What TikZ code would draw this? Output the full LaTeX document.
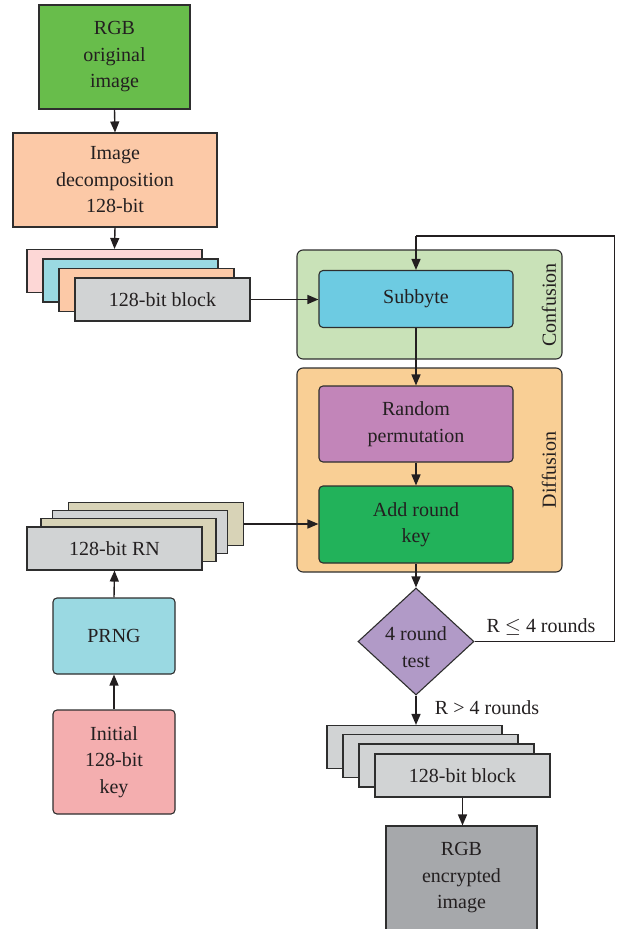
\documentclass[tikz,border=0pt]{standalone}
\usepackage{fontspec}
\setmainfont{Liberation Serif}
\usetikzlibrary{arrows.meta,shapes.geometric}
\definecolor{txt}{HTML}{231F20}
\definecolor{edge}{HTML}{2E2E2E}
\definecolor{cOrig}{HTML}{68BD4B}
\definecolor{cDecomp}{HTML}{FCC9A7}
\definecolor{cPink}{HTML}{FDD7D6}
\definecolor{cCyan}{HTML}{9AD9E2}
\definecolor{cGray}{HTML}{D1D3D4}
\definecolor{cKhaki}{HTML}{D8D3B7}
\definecolor{cConf}{HTML}{C9E2B8}
\definecolor{cSub}{HTML}{6DCBE2}
\definecolor{cDiff}{HTML}{F9CF95}
\definecolor{cPerm}{HTML}{C285B9}
\definecolor{cKey}{HTML}{22B25A}
\definecolor{cTest}{HTML}{B19AC7}
\definecolor{cInit}{HTML}{F4AEAF}
\definecolor{cEnc}{HTML}{A6A8AB}
\begin{document}
\begin{tikzpicture}[x=1pt,y=-1pt,
  font=\fontsize{20}{26.5}\selectfont, text=txt,
  box/.style={draw=edge, line width=1.1pt, inner sep=0pt, align=center},
  rbox/.style={box, rounded corners=4pt},
  group/.style={draw=edge, line width=1.1pt, rounded corners=6pt, inner sep=0pt},
  sheet/.style={box, minimum width=175pt, minimum height=43pt},
  flow/.style={draw=txt, line width=1.4pt, -{Triangle[length=11pt,width=9pt]}},
  plain/.style={draw=txt, line width=1.4pt},
  side/.style={rotate=90}]
\useasboundingbox (0,0) rectangle (616,929);

% source image and decomposition
\node[box, fill=cOrig, minimum width=151pt, minimum height=104pt] (orig) at (114.5,57) {RGB\\original\\image};
\node[box, fill=cDecomp, minimum width=204pt, minimum height=94pt] (decomp) at (115,180) {Image\\decomposition\\128-bit};

% stack of plain blocks
\node[sheet, fill=cPink] (b1) at (114.5,271) {};
\node[sheet, fill=cCyan] (b2) at (130.5,280.5) {};
\node[sheet, fill=cDecomp] (b3) at (146.5,290) {};
\node[sheet, fill=cGray] (b4) at (162.5,299.5) {128-bit block};

% confusion stage
\node[group, fill=cConf, minimum width=265pt, minimum height=109pt] (conf) at (429.5,304.5) {};
\node[rbox, fill=cSub, minimum width=194pt, minimum height=57pt] (sub) at (416,299) {Subbyte};
\node[side] (conflbl) at (549,305) {Confusion};

% diffusion stage
\node[group, fill=cDiff, minimum width=265pt, minimum height=204pt] (diff) at (429.5,470) {};
\node[rbox, fill=cPerm, minimum width=194pt, minimum height=76pt] (perm) at (416,424) {Random\\permutation};
\node[rbox, fill=cKey, minimum width=194pt, minimum height=77pt] (key) at (416,524.5) {Add round\\key};
\node[side] (difflbl) at (549,470) {Diffusion};

% round test
\node[draw=edge, line width=1.1pt, fill=cTest, diamond, inner sep=0pt,
      minimum width=116pt, minimum height=107pt] (test) at (416,641.5) {};
\node[align=center] (testlbl) at (416,647) {4 round\\test};

% encrypted blocks
\node[sheet, fill=cGray] (e1) at (414.5,747) {};
\node[sheet, fill=cGray] (e2) at (430.5,756) {};
\node[sheet, fill=cGray] (e3) at (446.5,765.5) {};
\node[sheet, fill=cGray] (e4) at (462.5,775.5) {128-bit block};
\node[box, fill=cEnc, minimum width=151pt, minimum height=104pt] (enc) at (461.5,878) {RGB\\encrypted\\image};

% key schedule
\node[sheet, fill=cKhaki] (r1) at (156,524) {};
\node[sheet, fill=cGray] (r2) at (140,532) {};
\node[sheet, fill=cKhaki] (r3) at (128.5,540) {};
\node[sheet, fill=cGray] (r4) at (114.5,548.5) {128-bit RN};
\node[rbox, fill=cCyan, minimum width=122pt, minimum height=76pt] (prng) at (114,636) {PRNG};
\node[rbox, fill=cInit, minimum width=122pt, minimum height=104pt] (init) at (114,762) {Initial\\128-bit\\key};

% connectors
\draw[flow] (orig.south) -- (decomp.north);
\draw[flow] (decomp.south) -- (b1.north);
\draw[flow] (b4.east) -- (b4.east -| sub.west);
\draw[flow] (sub.south) -- (perm.north);
\draw[flow] (perm.south) -- (key.north);
\draw[flow] (key.south) -- (test.north);
\draw[flow] (r1.east) -- (r1.east -| key.west);
\draw[flow] (init.north) -- (prng.south);
\draw[flow] (prng.north) -- (r4.south);
\coordinate (loopR) at (614.5,641.5);
\coordinate (loopT) at (614.5,236);
\draw[plain] (test.east) -- (loopR) -- (loopT) -- (sub.north |- loopT);
\draw[flow] (sub.north |- loopT) -- (sub.north);
\draw[flow] (test.south) -- (test.south |- e1.north);
\draw[flow] (e4.south) -- (e4.south |- enc.north);

% branch labels
\node (le) at (541,627) {R $\leq$ 4 rounds};
\node (gt) at (487,708) {R > 4 rounds};
\end{tikzpicture}
\end{document}
